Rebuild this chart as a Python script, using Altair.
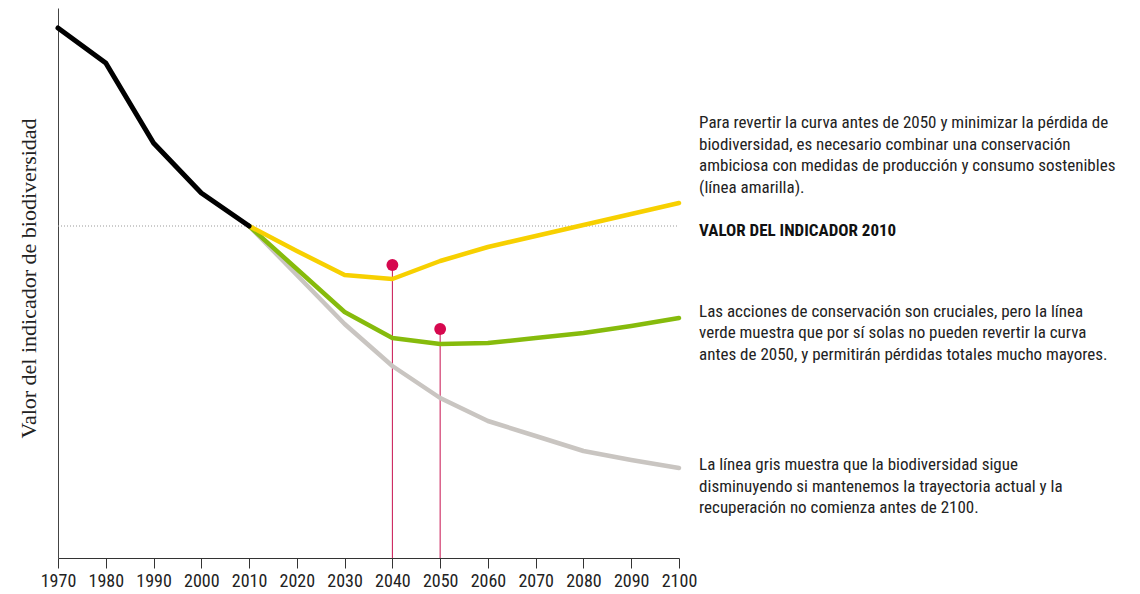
import altair as alt
import pandas as pd

# ---- data (arbitrary index units) ----
hist_years = [1970, 1980, 1990, 2000, 2010]
hist_vals = [530, 495, 415, 365, 332]

proj_years = [2010, 2020, 2030, 2040, 2050, 2060, 2070, 2080, 2090, 2100]
yellow_vals = [332, 307, 283, 279, 297, 311, 322, 333, 344, 355]
green_vals = [332, 289, 246, 220, 214, 215, 220, 225, 232, 240]
gray_vals = [332, 283, 234, 192, 160, 137, 122, 107, 98, 90]

ref_value = 332          # indicator value in 2010
dot_years = [2040, 2050]
dot_vals = [293, 229]

x_ticks = list(range(1970, 2101, 10))

block1 = [
    "Para revertir la curva antes de 2050 y minimizar la pérdida de",
    "biodiversidad, es necesario combinar una conservación",
    "ambiciosa con medidas de producción y consumo sostenibles",
    "(línea amarilla).",
]
heading = "VALOR DEL INDICADOR 2010"
block2 = [
    "Las acciones de conservación son cruciales, pero la línea",
    "verde muestra que por sí solas no pueden revertir la curva",
    "antes de 2050, y permitirán pérdidas totales mucho mayores.",
]
block3 = [
    "La línea gris muestra que la biodiversidad sigue",
    "disminuyendo si mantenemos la trayectoria actual y la",
    "recuperación no comienza antes de 2100.",
]

SANS = "'Liberation Sans Narrow', 'Roboto Condensed', 'DejaVu Sans Condensed', 'Liberation Sans', sans-serif"
SERIF = "'Liberation Serif', 'DejaVu Serif', serif"

W, H = 621, 550
xscale = alt.Scale(domain=[1970, 2100], nice=False, zero=False)
yscale = alt.Scale(domain=[0, 550], nice=False, zero=False)

xax = alt.Axis(values=x_ticks, format="d", title=None, grid=False,
               domainColor="#333", domainWidth=1, tickColor="#333", tickSize=10,
               labelFont=SANS, labelFontSize=18, labelColor="#222", labelPadding=4,
               labelFlush=False)
yax = alt.Axis(title="Valor del indicador de biodiversidad", grid=False, ticks=False,
               labels=False, domainColor="#444", domainWidth=1,
               titleFont=SERIF, titleFontSize=22, titleFontWeight="normal",
               titleColor="#222", titlePadding=18, titleY=270)

def line_df(years, vals):
    return pd.DataFrame({"year": years, "v": vals})

base_x = alt.X("year:Q", scale=xscale, axis=xax)
base_y = alt.Y("v:Q", scale=yscale, axis=yax)

def line(df, color, width):
    return alt.Chart(df).mark_line(color=color, strokeWidth=width, strokeCap="round",
                                   strokeJoin="round").encode(x=base_x, y=base_y)

ref = alt.Chart(pd.DataFrame({"year": [1970], "year2": [2100], "v": [ref_value]})).mark_rule(
    color="#999", strokeWidth=1, strokeDash=[1, 2]).encode(
    x=base_x, x2="year2:Q", y=base_y)

dots_df = pd.DataFrame({"year": dot_years, "v": dot_vals, "zero": [0, 0]})
stems = alt.Chart(dots_df).mark_rule(color="#c8104f", strokeWidth=1).encode(
    x=base_x, y=base_y, y2="zero:Q")
dots = alt.Chart(dots_df).mark_circle(color="#d6084f", opacity=1, size=140).encode(
    x=base_x, y=base_y)

# annotation text, placed just right of the plot
TX = 2104.2
LH = 21.7
rows = []
for i, t in enumerate(block1):
    rows.append({"year": TX, "v": 430 - i * LH, "t": t})
for i, t in enumerate(block2):
    rows.append({"year": TX, "v": 241.5 - i * LH, "t": t})
for i, t in enumerate(block3):
    rows.append({"year": TX, "v": 88 - i * LH, "t": t})
txt = alt.Chart(pd.DataFrame(rows)).mark_text(
    align="left", baseline="alphabetic", font=SANS, fontSize=17, color="#222").encode(
    x=base_x, y=base_y, text="t:N")
head = alt.Chart(pd.DataFrame({"year": [TX], "v": [322], "t": [heading]})).mark_text(
    align="left", baseline="alphabetic", font=SANS, fontSize=17, fontWeight="bold",
    color="#111").encode(x=base_x, y=base_y, text="t:N")

chart = alt.layer(
    ref,
    stems,
    line(line_df(proj_years, gray_vals), "#c9c5c1", 4.5),
    line(line_df(proj_years, green_vals), "#86bb0c", 4.5),
    line(line_df(proj_years, yellow_vals), "#f7d000", 4.5),
    line(line_df(hist_years, hist_vals), "#000000", 5),
    dots,
    txt,
    head,
).properties(
    width=W, height=H, background="white",
    padding={"left": 9, "top": 0, "right": 5, "bottom": 5},
).configure_view(strokeWidth=0, stroke="transparent")

chart.save("out.html", embed_options={"renderer": "svg", "actions": False})
